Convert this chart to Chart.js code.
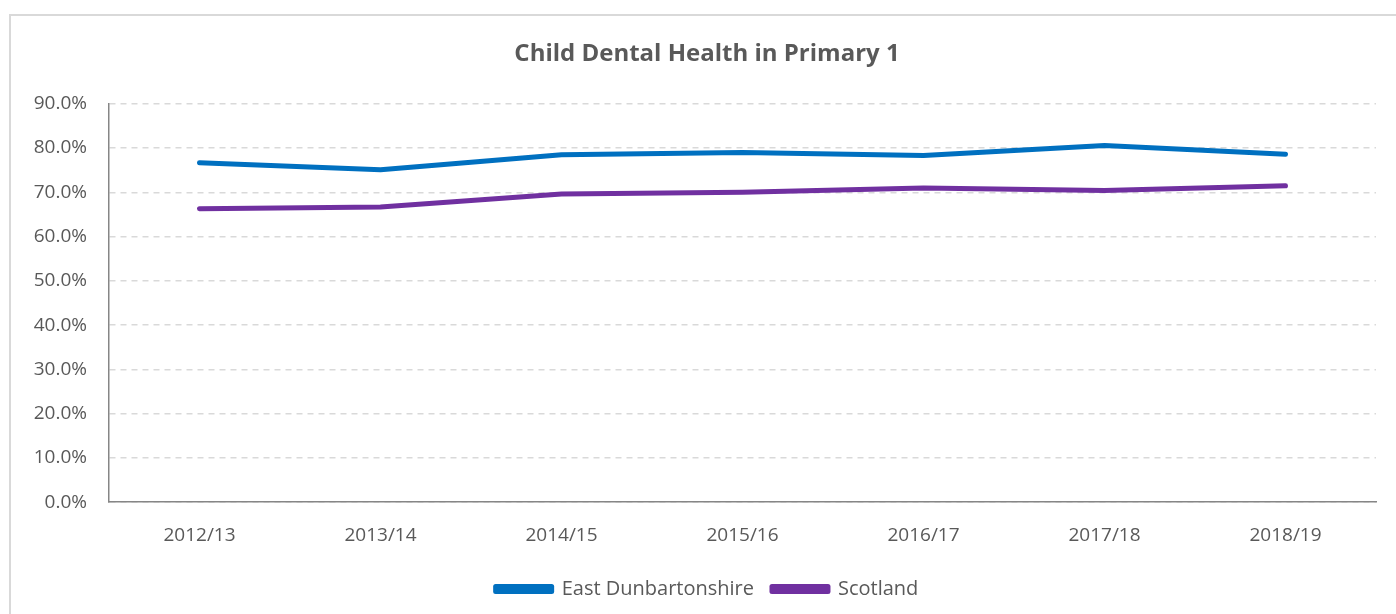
<!DOCTYPE html>
<html>
<head>
<meta charset="utf-8">
<script src="https://cdn.jsdelivr.net/npm/chart.js@4"></script>
<style>
  html, body { margin: 0; padding: 0; background: #fff; }
  body { width: 1396px; height: 614px; position: relative; overflow: hidden; }
  #frame {
    position: absolute; left: 9px; top: 14px; width: 1500px; height: 700px;
    border-left: 2px solid #d9d9d9; border-top: 2px solid #d9d9d9;
  }
  #wrap { position: absolute; left: 0; top: 0; width: 1396px; height: 614px; }
</style>
</head>
<body>
<div id="frame"></div>
<div id="wrap"><canvas id="lineChart" width="1396" height="614"></canvas></div>
<script>
// Child dental health - % of P1 children with no obvious decay
const years = ["2012/13", "2013/14", "2014/15", "2015/16", "2016/17", "2017/18", "2018/19"];
const eastDunbartonshire = [76.7, 75.1, 78.5, 79.0, 78.3, 80.6, 78.6];
const scotland = [66.3, 66.7, 69.6, 70.0, 71.0, 70.4, 71.5];
const yTicks = [0, 10, 20, 30, 40, 50, 60, 70, 80, 90];

const textColor = "#595959";
const font = "'Open Sans', sans-serif";

const lineChart = new Chart(document.getElementById("lineChart"), {
    type: 'line',
    data: {
        labels: years,
        datasets: [{
            label: "East Dunbartonshire",
            data: eastDunbartonshire,
            borderColor: "#0070c0",
            backgroundColor: "#0070c0",
            borderWidth: 5,
            borderCapStyle: 'round',
            borderJoinStyle: 'round',
            pointRadius: 0,
            tension: 0
        }, {
            label: "Scotland",
            data: scotland,
            borderColor: "#7030a0",
            backgroundColor: "#7030a0",
            borderWidth: 5,
            borderCapStyle: 'round',
            borderJoinStyle: 'round',
            pointRadius: 0,
            tension: 0
        }]
    },
    options: {
        responsive: false,
        animation: false,
        layout: {
            padding: { left: 18, right: 0, top: 0, bottom: 5 }
        },
        plugins: {
            title: {
                display: true,
                text: "Child Dental Health in Primary 1",
                color: textColor,
                font: { family: font, size: 24, weight: 'bold' },
                padding: { top: 40, bottom: 35 }
            },
            legend: {
                position: 'bottom',
                labels: {
                    color: textColor,
                    font: { family: font, size: 20 },
                    boxWidth: 56,
                    boxHeight: 5,
                    padding: 18
                }
            },
            tooltip: { enabled: false }
        },
        scales: {
            x: {
                offset: true,
                grid: { display: false },
                border: { display: true, color: "#868686", width: 1.5 },
                ticks: {
                    color: textColor,
                    font: { family: font, size: 19 },
                    padding: 14,
                    maxRotation: 0
                }
            },
            y: {
                min: 0,
                max: 90,
                afterBuildTicks: (scale) => {
                    scale.ticks = yTicks.map(v => ({ value: v }));
                },
                afterFit: (scale) => { scale.width = 91; },
                grid: { color: "#d9d9d9", lineWidth: 1.5, drawTicks: false },
                border: { display: true, color: "#868686", width: 1.5, dash: [6, 5] },
                ticks: {
                    color: textColor,
                    font: { family: font, size: 19 },
                    padding: 22,
                    callback: (v) => v.toFixed(1) + "%"
                }
            },
            // empty right-hand spacer so the plot ends where the original does
            spacer: {
                type: 'linear',
                position: 'right',
                min: 0,
                max: 90,
                afterFit: (scale) => { scale.width = 20; },
                grid: { display: false },
                border: { display: false },
                ticks: { display: false }
            }
        }
    }
});
</script>
</body>
</html>
